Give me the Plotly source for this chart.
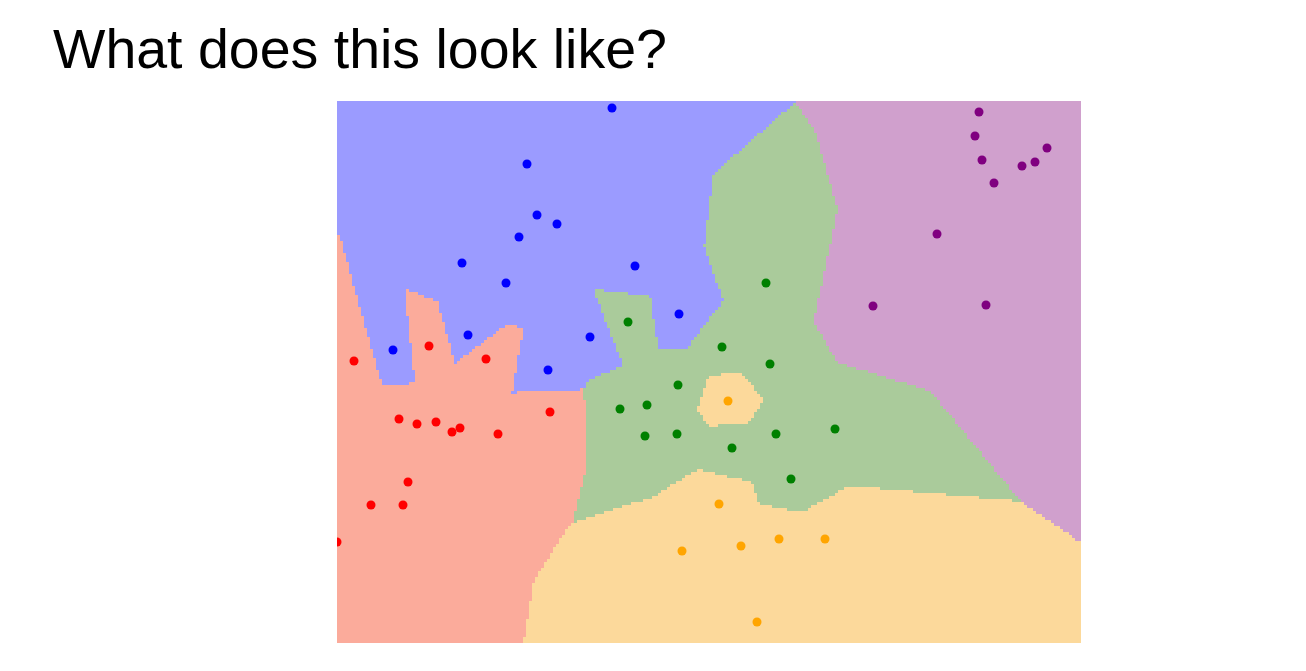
"""
Nearest-neighbour decision regions for five labelled point clouds,
drawn as a heatmap with the training points on top.
"""

import numpy as np
import plotly.graph_objects as go

# class names and colours
classes = ["blue", "red", "green", "orange", "purple"]
point_colors = ["#0000ff", "#ff0000", "#008000", "#ffa500", "#800080"]
region_colors = ["#9b9bff", "#fbab9b", "#aacb9b", "#fcd99b", "#d0a0cd"]

# points per class (x, y)
blue_x = [275, 190, 200, 220, 182, 125, 169, 298, 342, 131, 253, 56, 211]
blue_y = [535, 479, 428, 419, 406, 380, 360, 377, 329, 308, 306, 293, 273]

red_x = [17, 92, 149, 213, 62, 80, 99, 115, 123, 161, 71, 34, 66, 0]
red_y = [282, 297, 284, 231, 224, 219, 221, 211, 215, 209, 161, 138, 138, 101]

green_x = [291, 341, 429, 385, 433, 283, 310, 308, 340, 439, 395, 498, 454]
green_y = [321, 258, 360, 296, 279, 234, 238, 207, 209, 209, 195, 214, 164]

orange_x = [391, 345, 382, 404, 442, 488, 420]
orange_y = [242, 92, 139, 97, 104, 104, 21]

purple_x = [642, 638, 645, 657, 685, 698, 710, 600, 536, 649]
purple_y = [531, 507, 483, 460, 477, 481, 495, 409, 337, 338]

x_range = [0, 745]
y_range = [0, 542]

series_x = [blue_x, red_x, green_x, orange_x, purple_x]
series_y = [blue_y, red_y, green_y, orange_y, purple_y]

# 1-nearest-neighbour classification of a grid
all_x = np.concatenate([np.array(s, float) for s in series_x])
all_y = np.concatenate([np.array(s, float) for s in series_y])
labels = np.concatenate([np.full(len(s), i) for i, s in enumerate(series_x)])

step = 3.0
gx = np.arange(x_range[0] + step / 2, x_range[1], step)
gy = np.arange(y_range[0] + step / 2, y_range[1], step)
GX, GY = np.meshgrid(gx, gy)
d2 = (GX[..., None] - all_x) ** 2 + (GY[..., None] - all_y) ** 2
Z = labels[np.argmin(d2, axis=-1)]

n = len(classes)
colorscale = []
for i, c in enumerate(region_colors):
    colorscale.append([i / n, c])
    colorscale.append([(i + 1) / n, c])

fig = go.Figure()
fig.add_trace(
    go.Heatmap(
        x=gx, y=gy, z=Z,
        zmin=-0.5, zmax=n - 0.5,
        colorscale=colorscale,
        showscale=False,
        zsmooth=False,
        hoverinfo="skip",
    )
)

for name, xs, ys, col in zip(classes, series_x, series_y, point_colors):
    fig.add_trace(
        go.Scatter(
            x=xs, y=ys, mode="markers", name=name,
            marker=dict(color=col, size=9, line=dict(width=0)),
            showlegend=False,
        )
    )

# page body adds an 8px offset, margins compensate for it
fig.update_layout(
    width=1306,
    height=671,
    margin=dict(l=329, r=232, t=93, b=36),
    paper_bgcolor="white",
    plot_bgcolor="white",
    title=dict(
        text="What does this look like?",
        font=dict(family="Liberation Sans, Arial", size=55.5, color="black"),
        xref="container", yref="container",
        x=45 / 1306, xanchor="left",
        y=1 - 41 / 671, yanchor="middle",
    ),
)
fig.update_xaxes(range=x_range, visible=False, fixedrange=True)
fig.update_yaxes(range=y_range, visible=False, fixedrange=True)

fig.write_html("out.html")
